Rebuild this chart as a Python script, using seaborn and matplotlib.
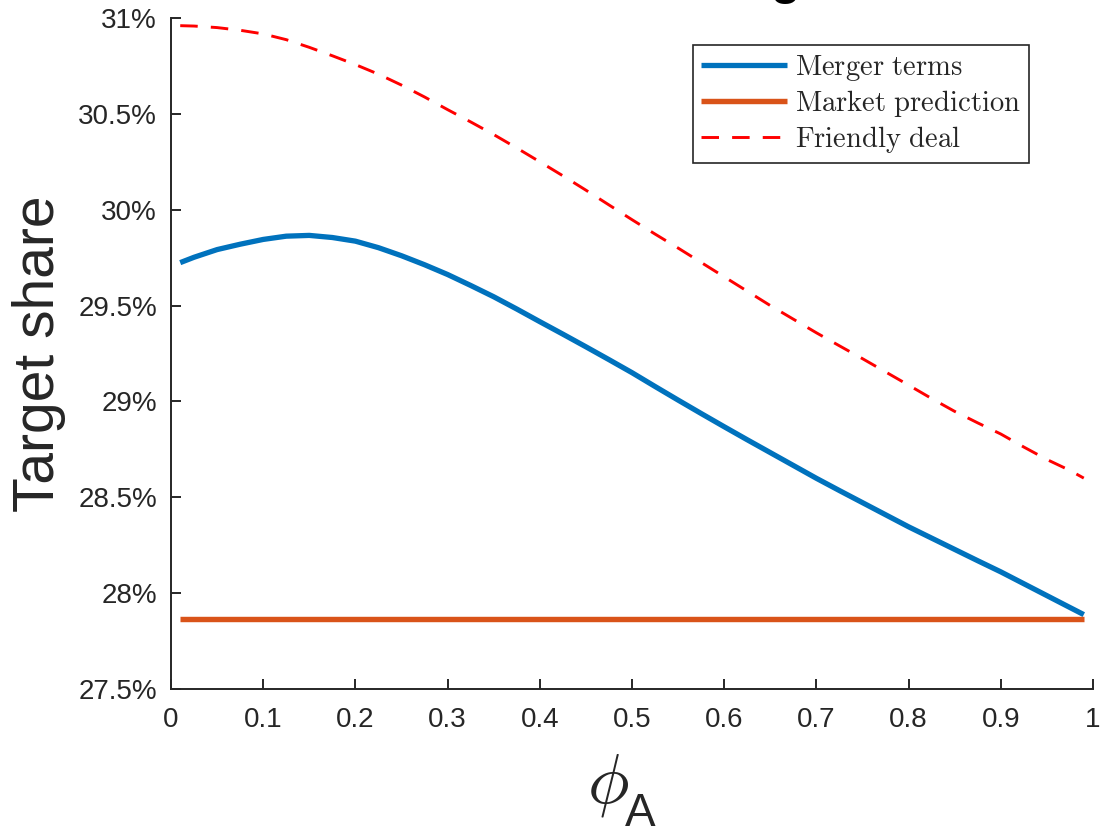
import numpy as np
import pandas as pd
import matplotlib
matplotlib.use("Agg")
import matplotlib.pyplot as plt
import seaborn as sns

# ---- data ----
phi = [0.01, 0.025, 0.05, 0.075, 0.10, 0.125, 0.15, 0.175, 0.20, 0.225, 0.25,
       0.275, 0.30, 0.325, 0.35, 0.375, 0.40, 0.425, 0.45, 0.475, 0.50,
       0.525, 0.55, 0.575, 0.60, 0.625, 0.65, 0.675, 0.70, 0.725, 0.75,
       0.775, 0.80, 0.825, 0.85, 0.875, 0.90, 0.925, 0.95, 0.975, 0.99]
merger_terms = [29.724, 29.752, 29.792, 29.820, 29.845, 29.862, 29.866, 29.855,
                29.836, 29.802, 29.760, 29.713, 29.662, 29.605, 29.546, 29.482,
                29.416, 29.351, 29.285, 29.218, 29.150, 29.078, 29.007, 28.937,
                28.868, 28.800, 28.733, 28.666, 28.599, 28.535, 28.472, 28.409,
                28.346, 28.287, 28.228, 28.169, 28.111, 28.049, 27.987, 27.925,
                27.888]
friendly_deal = [30.960, 30.958, 30.950, 30.936, 30.917, 30.887, 30.847, 30.803,
                 30.757, 30.707, 30.650, 30.588, 30.522, 30.458, 30.392, 30.322,
                 30.250, 30.177, 30.102, 30.025, 29.948, 29.873, 29.800, 29.725,
                 29.650, 29.575, 29.500, 29.429, 29.358, 29.290, 29.223, 29.154,
                 29.085, 29.015, 28.948, 28.888, 28.830, 28.762, 28.697, 28.640,
                 28.600]
market_prediction = [27.863] * len(phi)

y_ticks = [27.5, 28, 28.5, 29, 29.5, 30, 30.5, 31]
y_tick_labels = ["27.5%", "28%", "28.5%", "29%", "29.5%", "30%", "30.5%", "31%"]
x_ticks = [0, 0.1, 0.2, 0.3, 0.4, 0.5, 0.6, 0.7, 0.8, 0.9, 1]
x_tick_labels = ["0", "0.1", "0.2", "0.3", "0.4", "0.5", "0.6", "0.7", "0.8", "0.9", "1"]
series_names = ["Merger terms", "Market prediction", "Friendly deal"]

df = pd.DataFrame({"phi": phi, "merger": merger_terms,
                   "market": market_prediction, "friendly": friendly_deal})

sns.set_theme(style="ticks")
plt.rcParams["font.family"] = ["Liberation Sans", "DejaVu Sans"]
plt.rcParams["mathtext.fontset"] = "cm"

fig = plt.figure(figsize=(11.02, 8.30), dpi=100)
ax = fig.add_axes([171 / 1102, 1 - 689 / 830, (1093 - 171) / 1102, (689 - 18) / 830])

axis_col = "#262626"


def tex(s):
    return r"$\mathrm{" + s.replace(" ", r"\ ") + "}$"


sns.lineplot(data=df, x="phi", y="merger", ax=ax, color="#0072BD", lw=3.8,
             label=tex(series_names[0]), solid_capstyle="butt")
sns.lineplot(data=df, x="phi", y="market", ax=ax, color="#D95319", lw=3.9,
             label=tex(series_names[1]), solid_capstyle="butt")
sns.lineplot(data=df, x="phi", y="friendly", ax=ax, color="#FF0000", lw=2.1,
             label=tex(series_names[2]))
ax.lines[2].set_linestyle((0, (6.0, 4.5)))

ax.set_xlim(0, 1)
ax.set_ylim(27.5, 31)
ax.set_xticks(x_ticks)
ax.set_xticklabels(x_tick_labels)
ax.set_yticks(y_ticks)
ax.set_yticklabels(y_tick_labels)

for side in ["top", "right"]:
    ax.spines[side].set_visible(False)
for side in ["left", "bottom"]:
    ax.spines[side].set_color(axis_col)
    ax.spines[side].set_linewidth(1.4)

ax.tick_params(axis="both", direction="in", length=7, width=1.4, color=axis_col,
               labelcolor=axis_col, labelsize=20)
ax.tick_params(axis="y", pad=10)
ax.tick_params(axis="x", pad=13)

ax.set_ylabel("Target share", fontsize=41, color=axis_col, labelpad=9)

# x label: phi with a large sans-serif subscript A (MATLAB tex style)
ax.set_xlabel(r"$\phi$", fontsize=50, color=axis_col)
ax.xaxis.set_label_coords((608 - 171) / 922, (689 - 752) / 671)
fig.text(625 / 1102, 1 - 826 / 830, "A", ha="left", va="baseline",
         fontsize=33, color=axis_col)

leg = ax.legend(loc="upper left", bbox_to_anchor=((693 - 171) / 922, 1 - (45 - 18) / 671),
                fontsize=20.6, frameon=True, fancybox=False, framealpha=1,
                handlelength=3.0, handletextpad=0.3, borderpad=0.28,
                labelspacing=0.17, borderaxespad=0)
leg.get_frame().set_edgecolor(axis_col)
leg.get_frame().set_linewidth(1.2)

# partially visible title glyph at the very top of the image
fig.text(786 / 1102, 1 + 6 / 830, "g", ha="center", va="baseline",
         fontsize=35, fontweight="bold", color="black")

fig.savefig("out.png", dpi=100)
